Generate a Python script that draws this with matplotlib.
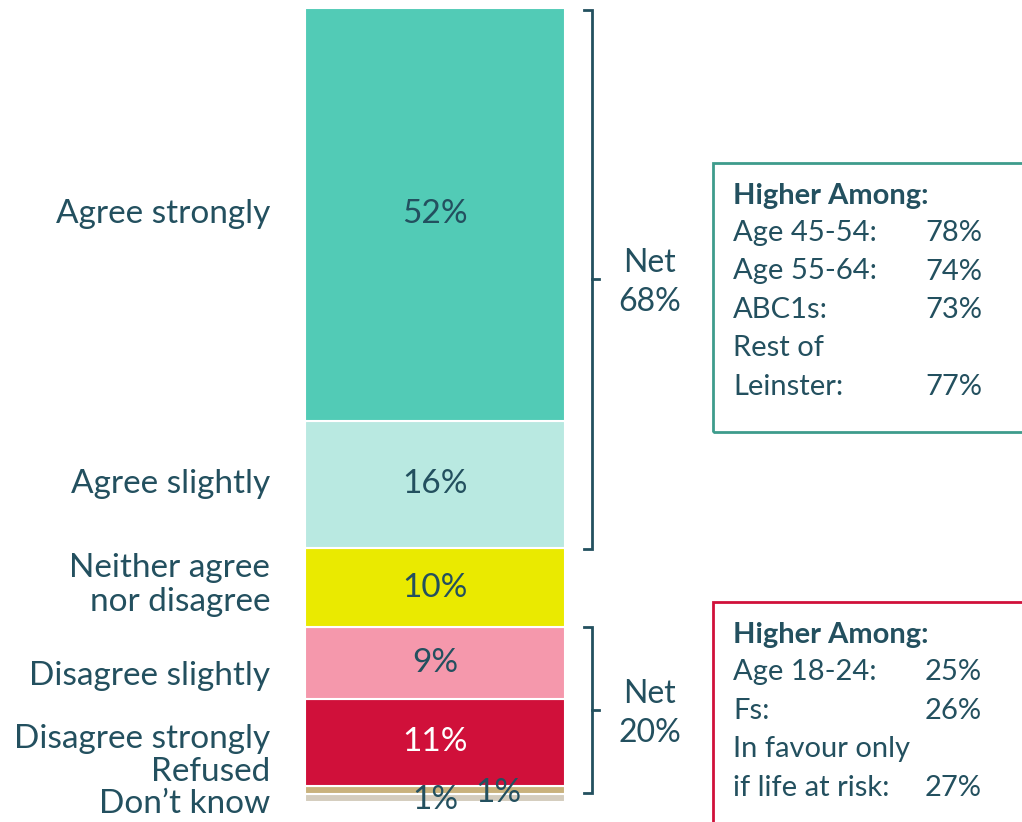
"""Stacked single bar: agreement levels with net brackets and 'Higher Among' boxes."""

import matplotlib
matplotlib.use("Agg")
import matplotlib.pyplot as plt
from matplotlib.patches import Rectangle

# data, bottom -> top
categories = ["Don\u2019t know", "Refused", "Disagree strongly", "Disagree slightly",
              "Neither agree\nnor disagree", "Agree slightly", "Agree strongly"]
values = [1, 1, 11, 9, 10, 16, 52]
colors = ["#D4CCBD", "#C9B27D", "#D0103A", "#F598AC", "#EAEA00", "#B9E9E1", "#52CBB6"]
value_colors = ["#23505F", "#23505F", "white", "#23505F", "#23505F", "#23505F", "#23505F"]

net_agree = 68
net_disagree = 20

agree_box = [("Age 45-54:", "78%"), ("Age 55-64:", "74%"), ("ABC1s:", "73%"),
             ("Rest of", ""), ("Leinster:", "77%")]
disagree_box = [("Age 18-24:", "25%"), ("Fs:", "26%"), ("In favour only", ""),
                ("if life at risk:", "27%")]

TXT = "#23505F"
FONT = ["Lato", "DejaVu Sans"]
plt.rcParams["font.family"] = FONT

fig = plt.figure(figsize=(10.22, 8.22), dpi=100)
ax = fig.add_axes([0, 0, 1, 1])
# x in pixels, y in percent (pixel 802 -> 0 %, pixel 8 -> 100 %)
PX = 7.94
ax.set_xlim(0, 1022)
ax.set_ylim(-20 / PX, 802 / PX)
ax.axis("off")


def ypix(p):
    return (802 - p) / PX


bar_x, bar_w = 435, 260
bottoms = []
b = 0
for v in values:
    bottoms.append(b)
    b += v

ax.bar(bar_x, values, bottom=bottoms, width=bar_w, color=colors,
       edgecolor="white", linewidth=1.5)

# value labels
for i, (v, b0) in enumerate(zip(values, bottoms)):
    cx, cy = bar_x, b0 + v / 2
    if i == 0:
        cy = ypix(800)
    if i == 1:
        cx, cy = 498, ypix(793)
    ax.text(cx, cy, f"{v}%", ha="center", va="center", fontsize=24,
            color=value_colors[i] if i > 1 else TXT)

# category labels
label_y = {0: ypix(804), 1: ypix(772), 2: ypix(739), 3: ypix(676), 4: ypix(585)}
for i, (c, v, b0) in enumerate(zip(categories, values, bottoms)):
    cy = label_y.get(i, b0 + v / 2)
    ax.text(270, cy, c, ha="right", va="center", fontsize=24, color=TXT,
            linespacing=1.15)


def bracket(y0, y1, ymid, label):
    x = 592
    ax.plot([584, x, x, 584], [y0, y0, y1, y1], color=TXT, lw=2,
            solid_joinstyle="miter")
    ax.plot([x, 599], [ymid, ymid], color=TXT, lw=2)
    ax.text(650, ymid - 0.45, label, ha="center", va="center", fontsize=23,
            color=TXT, linespacing=1.4)


top_of_agree = sum(values)
bottom_of_agree = top_of_agree - values[-1] - values[-2]
bracket(top_of_agree - 0.2, bottom_of_agree - 0.1, ypix(279), f"Net\n{net_agree}%")
bottom_of_dis = values[0] + values[1]
top_of_dis = bottom_of_dis + values[2] + values[3]
bracket(top_of_dis + 0.1, bottom_of_dis - 0.9, ypix(710), f"Net\n{net_disagree}%")


def box(top_px, bottom_px, edge, rows):
    ax.add_patch(Rectangle((713, ypix(bottom_px)), 400, ypix(top_px) - ypix(bottom_px),
                           fill=False, edgecolor=edge, lw=2, clip_on=True))
    ax.text(733, ypix(top_px + 33), "Higher Among:", ha="left", va="center",
            fontsize=21, fontweight="bold", color=TXT)
    for k, (lab, val) in enumerate(rows):
        y = ypix(top_px + 70 + 38.5 * k)
        ax.text(733, y, lab, ha="left", va="center", fontsize=21, color=TXT)
        if val:
            ax.text(925, y, val, ha="left", va="center", fontsize=21, color=TXT)


box(163, 432, "#3E9C8C", agree_box)
box(602, 840, "#D0103A", disagree_box)

fig.savefig("out.png", dpi=100)
